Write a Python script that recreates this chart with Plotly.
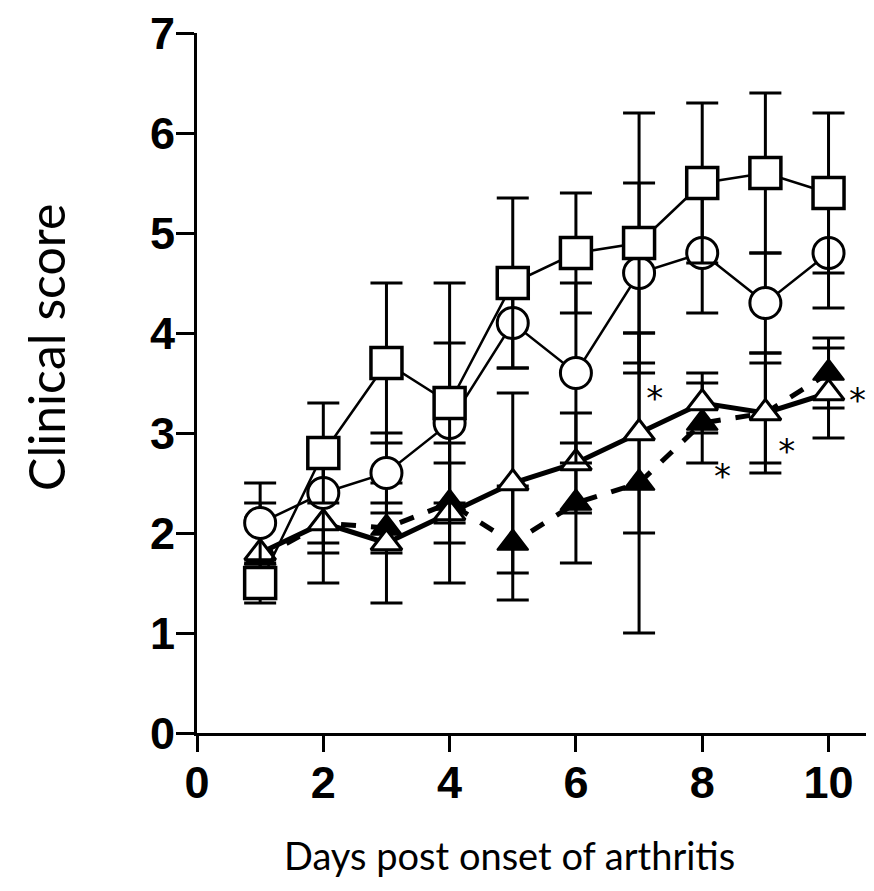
import plotly.graph_objects as go

days = [1, 2, 3, 4, 5, 6, 7, 8, 9, 10]

sq_mean = [1.5, 2.8, 3.7, 3.3, 4.5, 4.8, 4.9, 5.5, 5.6, 5.4]
sq_err = [0.15, 0.5, 0.8, 1.2, 0.85, 0.6, 1.3, 0.8, 0.8, 0.8]

circ_mean = [2.1, 2.4, 2.6, 3.1, 4.1, 3.6, 4.6, 4.8, 4.3, 4.8]
circ_err = [0.4, 0.5, 0.4, 0.8, 0.45, 0.9, 0.9, 0.6, 0.5, 0.55]

otri_mean = [1.8, 2.1, 1.9, 2.2, 2.5, 2.7, 3.0, 3.3, 3.2, 3.4]
otri_err = [0.5, 0.6, 0.6, 0.7, 0.9, 0.5, 1.0, 0.3, 0.6, 0.45]

ftri_mean = [1.75, 2.1, 2.05, 2.3, 1.9, 2.3, 2.5, 3.1, 3.2, 3.6]
ftri_err = [0.4, 0.3, 0.25, 0.4, 0.57, 0.6, 1.5, 0.4, 0.5, 0.35]

star_x = [7.25, 8.32, 9.34, 10.46]
star_y = [3.32, 2.54, 2.79, 3.30]
star_text = ["*", "*", "*", "*"]

x_ticks = [0, 2, 4, 6, 8, 10]
y_ticks = [0, 1, 2, 3, 4, 5, 6, 7]

x_title = "Days post onset of arthritis"
y_title = "Clinical score"

fig = go.Figure()

def err(vals):
    return dict(type="data", array=vals, visible=True, color="black", thickness=3, width=16)

fig.add_trace(go.Scatter(
    x=days, y=ftri_mean, mode="lines+markers",
    line=dict(color="black", width=5, dash="dash"),
    marker=dict(symbol="triangle-up", size=27, color="black", line=dict(color="black", width=2)),
    error_y=err(ftri_err), showlegend=False))

fig.add_trace(go.Scatter(
    x=days, y=otri_mean, mode="lines+markers",
    line=dict(color="black", width=5),
    marker=dict(symbol="triangle-up", size=27, color="white", line=dict(color="black", width=3)),
    error_y=err(otri_err), showlegend=False))

fig.add_trace(go.Scatter(
    x=days, y=circ_mean, mode="lines+markers",
    line=dict(color="black", width=2.5),
    marker=dict(symbol="circle", size=31, color="white", line=dict(color="black", width=3)),
    error_y=err(circ_err), showlegend=False))

fig.add_trace(go.Scatter(
    x=days, y=sq_mean, mode="lines+markers",
    line=dict(color="black", width=2.5),
    marker=dict(symbol="square", size=31, color="white", line=dict(color="black", width=3.5)),
    error_y=err(sq_err), showlegend=False))

fig.add_trace(go.Scatter(
    x=star_x, y=star_y, mode="text", text=star_text,
    textfont=dict(family="DejaVu Sans", size=34, color="black"),
    textposition="middle center",
    showlegend=False, cliponaxis=False))

tickfont = dict(family="Liberation Sans", size=45, color="black", weight="bold")

fig.update_xaxes(
    range=[0, 10.72], tickvals=x_ticks, ticktext=[str(v) for v in x_ticks],
    showline=True, linecolor="black", linewidth=3, showgrid=False, zeroline=False,
    ticks="outside", ticklen=16, tickwidth=3, tickcolor="black", automargin=False,
    tickfont=tickfont, ticklabelstandoff=-8, ticklabeloverflow="allow")

fig.update_yaxes(
    range=[0, 7], tickvals=y_ticks, ticktext=[str(v) for v in y_ticks],
    showline=True, linecolor="black", linewidth=3, showgrid=False, zeroline=False,
    ticks="outside", ticklen=18, tickwidth=3, tickcolor="black", automargin=False,
    tickfont=tickfont, ticklabelstandoff=-8, ticklabeloverflow="allow")

fig.add_annotation(text=x_title, xref="paper", yref="paper", x=0.462, y=-0.174,
                   showarrow=False, xanchor="center", yanchor="middle",
                   font=dict(family="Lato", size=38, color="black"))
fig.add_annotation(text=y_title, xref="paper", yref="paper", x=-0.222, y=0.551,
                   showarrow=False, textangle=-90, xanchor="center", yanchor="middle",
                   font=dict(family="Lato", size=50, color="black"))

fig.update_layout(
    width=874, height=891,
    margin=dict(l=189, r=8, t=25, b=166, autoexpand=False),
    plot_bgcolor="white", paper_bgcolor="white")

fig.write_html("out.html")
